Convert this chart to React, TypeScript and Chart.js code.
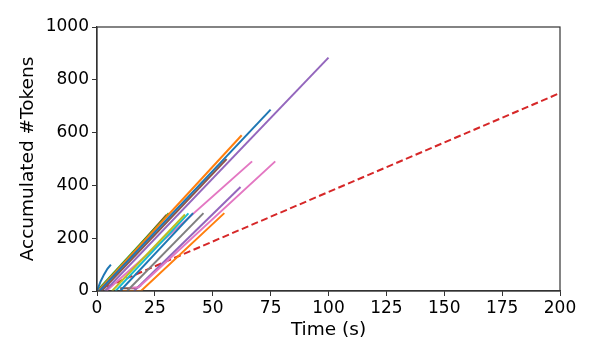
import React, { useEffect, useRef } from "react";
import { Chart, registerables } from "chart.js";
Chart.register(...registerables);

// Time (s) / accumulated token traces, one pair of arrays per request
const r1X = [0, 1.5, 3, 4.5, 6];
const r1Y = [0, 35, 62, 84, 100];
const r2X = [0.5, 62.5];
const r2Y = [0, 590];
const r3X = [0, 31];
const r3Y = [0, 295];
const r4X = [1, 30];
const r4Y = [0, 288];
const r5X = [16, 62];
const r5Y = [0, 394];
const r6X = [10, 17, 19];
const r6Y = [10, 10, 22];
const r7X = [4, 67];
const r7Y = [0, 491];
const r8X = [13, 46];
const r8Y = [0, 295];
const r9X = [6.5, 38];
const r9Y = [0, 290];
const r10X = [8, 39.5];
const r10Y = [0, 294];
const r11X = [1, 75];
const r11Y = [0, 687];
const r12X = [11, 19, 55];
const r12Y = [0, 0, 295];
const r13X = [14, 18, 77];
const r13Y = [12, 14, 491];
const r14X = [10, 41.5];
const r14Y = [0, 295];
const r15X = [3.4, 100];
const r15Y = [0, 884];
const r16X = [2, 56];
const r16Y = [0, 500];
const refX = [0, 200];
const refY = [0, 750];

const xTicks = [0, 25, 50, 75, 100, 125, 150, 175, 200];
const yTicks = [0, 200, 400, 600, 800, 1000];

const C = {
  blue: "#1f77b4", orange: "#ff7f0e", green: "#2ca02c", red: "#d62728",
  purple: "#9467bd", brown: "#8c564b", pink: "#e377c2", gray: "#7f7f7f",
  olive: "#bcbd22", cyan: "#17becf",
};

const series: [number[], number[], string][] = [
  [r1X, r1Y, C.blue],
  [r15X, r15Y, C.purple],
  [r11X, r11Y, C.blue],
  [r16X, r16Y, C.brown],
  [r2X, r2Y, C.orange],
  [r3X, r3Y, C.green],
  [r4X, r4Y, C.red],
  [r9X, r9Y, C.olive],
  [r10X, r10Y, C.cyan],
  [r14X, r14Y, C.blue],
  [r8X, r8Y, C.gray],
  [r7X, r7Y, C.pink],
  [r13X, r13Y, C.pink],
  [r5X, r5Y, C.purple],
  [r6X, r6Y, C.brown],
  [r12X, r12Y, C.orange],
];

const frame = {
  id: "frame",
  afterDatasetsDraw(chart: any) {
    const { ctx, chartArea: a } = chart;
    ctx.save();
    ctx.strokeStyle = "#333";
    ctx.lineWidth = 1.2;
    ctx.strokeRect(a.left, a.top, a.right - a.left, a.bottom - a.top);
    ctx.restore();
  },
};

export default function App() {
  const ref = useRef<HTMLCanvasElement>(null);
  useEffect(() => {
    const font = { family: "'DejaVu Sans', sans-serif", size: 17 };
    const tfont = { family: "'DejaVu Sans', sans-serif", size: 18.5 };
    const datasets: any[] = series.map(([xs, ys, col]) => ({
      data: xs.map((x, i) => ({ x, y: ys[i] })),
      borderColor: col,
      backgroundColor: col,
      borderWidth: 2,
      showLine: true,
      pointRadius: 0,
      tension: 0,
    }));
    datasets.push({
      data: refX.map((x, i) => ({ x, y: refY[i] })),
      borderColor: C.red,
      backgroundColor: C.red,
      borderWidth: 2,
      borderDash: [7, 3.5],
      showLine: true,
      pointRadius: 0,
    });
    const chart = new Chart(ref.current!, {
      type: "scatter",
      data: { datasets },
      plugins: [frame],
      options: {
        animation: false,
        responsive: false,
        maintainAspectRatio: false,
        layout: { padding: { left: 0, right: 38, top: 27, bottom: 0 } },
        plugins: { legend: { display: false }, tooltip: { enabled: false } },
        scales: {
          x: {
            type: "linear",
            min: 0,
            max: 200,
            afterBuildTicks: (s: any) => { s.ticks = xTicks.map((v) => ({ value: v })); },
            afterFit: (s: any) => { s.height = 68; },
            ticks: { color: "#000", font, padding: 2, maxRotation: 0, callback: (v: any) => String(v) },
            grid: { drawOnChartArea: false, drawTicks: true, tickLength: 5, color: "#333" },
            border: { display: true, color: "#333", width: 1.2 },
            title: { display: true, text: "Time (s)", color: "#000", font: tfont, padding: { top: 0, bottom: 18 } },
          },
          y: {
            type: "linear",
            min: 0,
            max: 1000,
            afterBuildTicks: (s: any) => { s.ticks = yTicks.map((v) => ({ value: v })); },
            afterFit: (s: any) => { s.width = 97; },
            ticks: { color: "#000", font, padding: 3, callback: (v: any) => String(v) },
            grid: { drawOnChartArea: false, drawTicks: true, tickLength: 5, color: "#333" },
            border: { display: true, color: "#333", width: 1.2 },
            title: { display: true, text: "Accumulated #Tokens", color: "#000", font: tfont, padding: { top: 17, bottom: 0 } },
          },
        },
      },
    });
    return () => chart.destroy();
  }, []);
  return (
    <div style={{ position: "fixed", left: 0, top: 0, width: 598, height: 359, background: "#fff" }}>
      <canvas ref={ref} width={598} height={359} style={{ width: 598, height: 359 }} />
    </div>
  );
}
